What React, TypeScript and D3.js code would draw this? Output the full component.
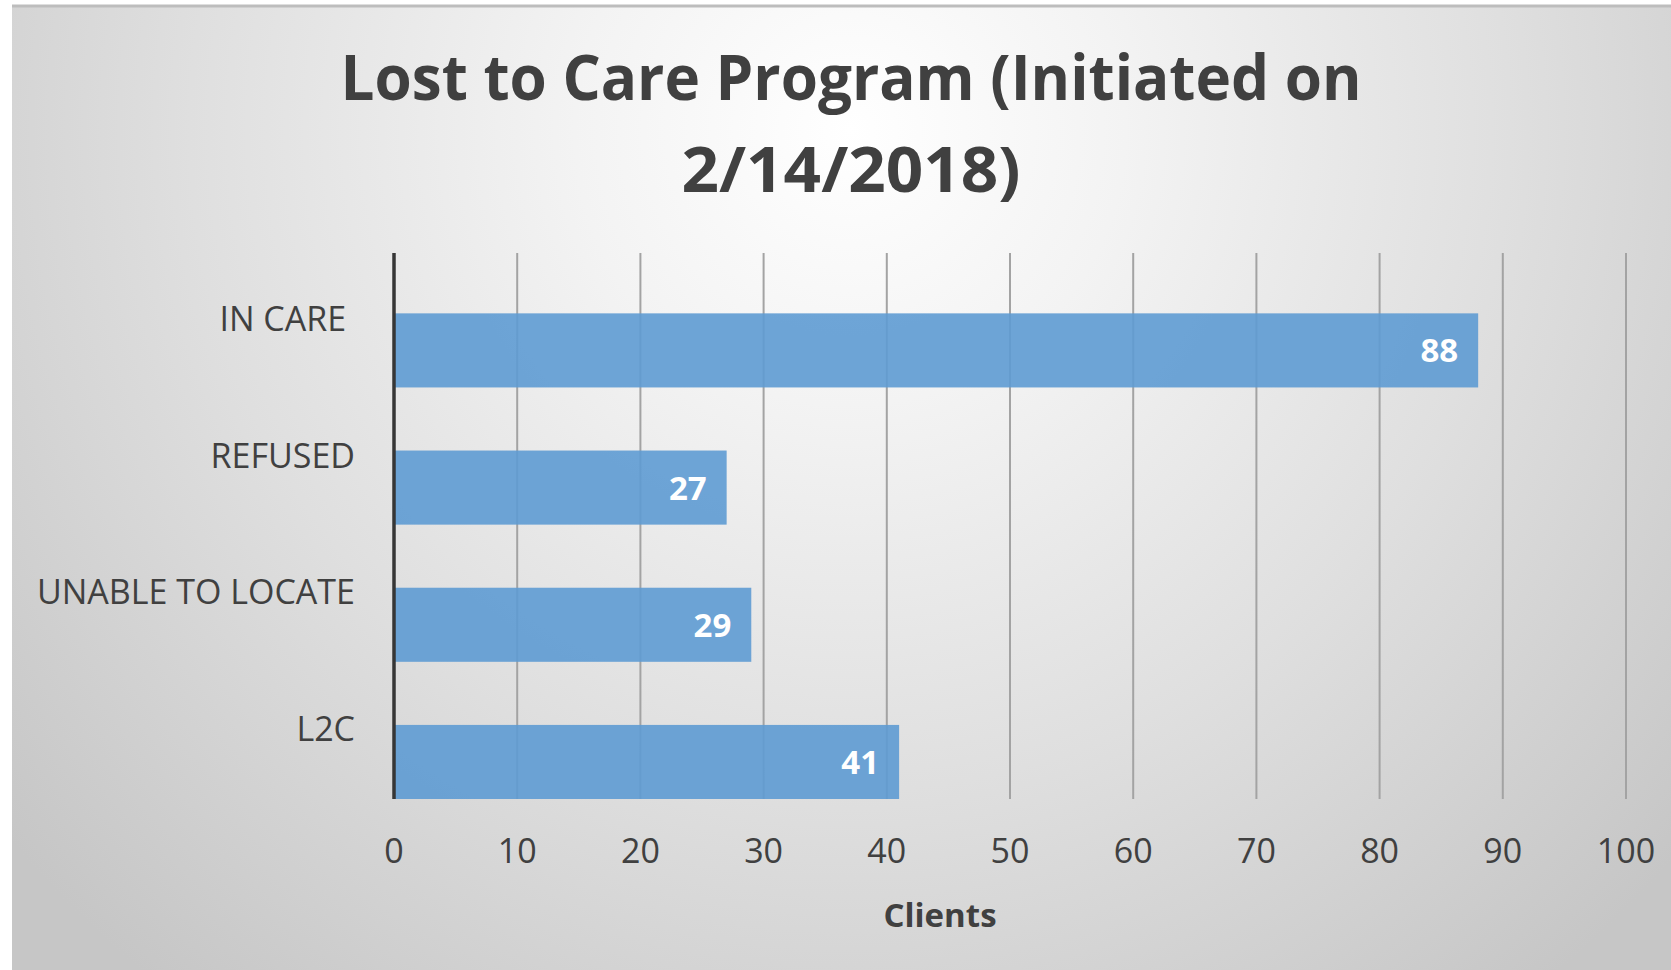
import React from "react";
import * as d3 from "d3";

const categories = ["IN CARE ", "REFUSED", "UNABLE TO LOCATE", "L2C"];
const values = [88, 27, 29, 41];
const xTicks = [0, 10, 20, 30, 40, 50, 60, 70, 80, 90, 100];
const titleLines = ["Lost to Care Program (Initiated on", "2/14/2018)"];
const xAxisTitle = "Clients";

const W = 1671;
const H = 970;
const plot = { left: 394, right: 1626, top: 253, bottom: 799 };

export default function App() {
  const x = d3.scaleLinear().domain([0, 100]).range([plot.left, plot.right]);
  const cat = d3.scaleBand<string>().domain(categories).range([plot.top, plot.bottom]).padding(0);
  const bars = d3
    .scaleBand<string>()
    .domain(categories)
    .range([plot.top, plot.bottom])
    .paddingInner(0.46)
    .paddingOuter(0.22)
    .align(1);

  const font = "'Open Sans', 'DejaVu Sans', sans-serif";
  const textColor = "#404040";

  return (
    <svg
      width={W}
      height={H}
      style={{ position: "absolute", left: 0, top: 0, display: "block" }}
      fontFamily={font}
    >
      <defs>
        <radialGradient id="bg" gradientUnits="userSpaceOnUse" cx={850} cy={130} r={1100}>
          <stop offset="0" stopColor="#ffffff" />
          <stop offset="0.25" stopColor="#f3f3f3" />
          <stop offset="0.6" stopColor="#dfdfdf" />
          <stop offset="1" stopColor="#c6c6c6" />
        </radialGradient>
      </defs>
      <rect x={0} y={0} width={W} height={H} fill="#ffffff" />
      <rect x={12} y={5} width={W - 12} height={H - 5} fill="url(#bg)" />
      <line x1={12} x2={W} y1={6} y2={6} stroke="#bdbdbd" strokeWidth={3} />

      {titleLines.map((t, i) => (
        <text
          key={t}
          x={851}
          y={100 + i * 92}
          textAnchor="middle"
          fontSize={62}
          fontWeight={700}
          fill={textColor}
          textLength={i === 0 ? 1021 : 339}
          lengthAdjust="spacingAndGlyphs"
        >
          {t}
        </text>
      ))}

      {xTicks.slice(1).map((t) => (
        <line
          key={"g" + t}
          x1={x(t)}
          x2={x(t)}
          y1={plot.top}
          y2={plot.bottom}
          stroke="#a3a3a3"
          strokeWidth={2}
        />
      ))}

      {categories.map((c, i) => (
        <rect
          key={"b" + c}
          x={x(0)}
          y={bars(c)!}
          width={x(values[i]) - x(0)}
          height={bars.bandwidth()}
          fill="#5e9bd3"
          fillOpacity={0.9}
        />
      ))}

      {categories.map((c, i) => (
        <text
          key={"v" + c}
          x={x(values[i]) - 20}
          y={bars(c)! + bars.bandwidth() / 2 + 12}
          textAnchor="end"
          fontSize={33}
          fontWeight={700}
          fill="#ffffff"
        >
          {values[i]}
        </text>
      ))}

      <line x1={x(0)} x2={x(0)} y1={plot.top} y2={plot.bottom} stroke="#363636" strokeWidth={3.5} />

      {categories.map((c) => (
        <text
          key={"c" + c}
          x={355}
          y={cat(c)! + cat.bandwidth() / 2 + 10}
          textAnchor="end"
          fontSize={34}
          fill={textColor}
          style={{ whiteSpace: "pre" }}
        >
          {c}
        </text>
      ))}

      {xTicks.map((t) => (
        <text
          key={"t" + t}
          x={x(t)}
          y={863}
          textAnchor="middle"
          fontSize={34}
          fill={textColor}
        >
          {t}
        </text>
      ))}

      <text x={940} y={927} textAnchor="middle" fontSize={33} fontWeight={700} fill={textColor}>
        {xAxisTitle}
      </text>
    </svg>
  );
}
